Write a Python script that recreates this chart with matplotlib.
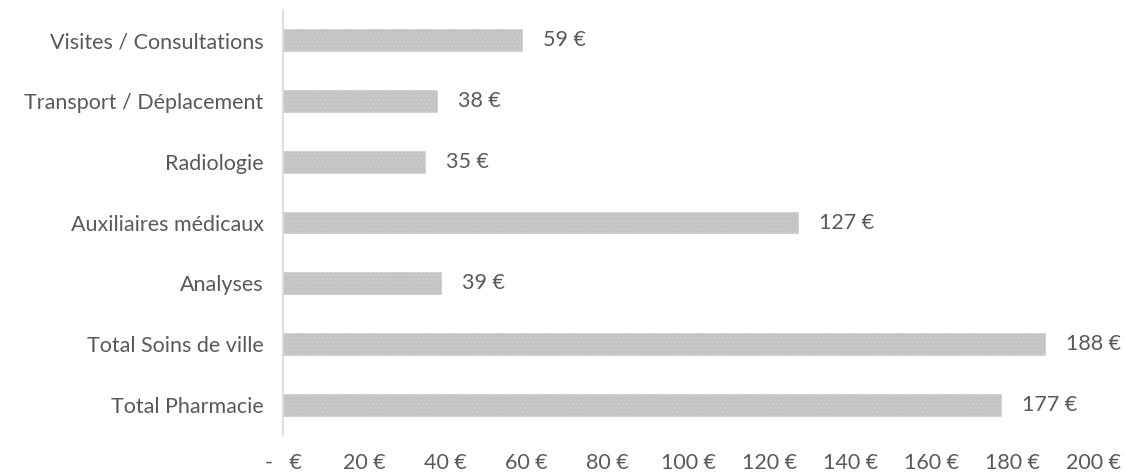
import matplotlib
matplotlib.use("Agg")
import matplotlib.pyplot as plt

categories = ["Visites / Consultations", "Transport / Déplacement", "Radiologie",
              "Auxiliaires médicaux", "Analyses", "Total Soins de ville", "Total Pharmacie"]
values = [59, 38, 35, 127, 39, 188, 177]
xticks = [0, 20, 40, 60, 80, 100, 120, 140, 160, 180, 200]
xticklabels = ["-   €", "20 €", "40 €", "60 €", "80 €", "100 €", "120 €", "140 €", "160 €", "180 €", "200 €"]

plt.rcParams['font.family'] = ['Lato', 'DejaVu Sans']
plt.rcParams['hatch.color'] = "#B2B2B2"
plt.rcParams['hatch.linewidth'] = 0.6
text_color = "#595959"
fs = 15.5

fig = plt.figure(figsize=(11.25, 4.76), dpi=100)
ax = fig.add_axes([0.2516, 0.086, 0.7208, 0.893])

ypos = list(range(len(categories)))
ax.barh(ypos, values, height=0.36, color="#C4C4C4", edgecolor="#D0D0D0", linewidth=0.6, hatch="....")
ax.set_ylim(len(categories) - 0.5, -0.5)
ax.set_xlim(0, 200)
ax.set_yticks(ypos)
ax.set_yticklabels(categories, fontsize=fs, color=text_color)
ax.set_xticks(xticks)
ax.set_xticklabels(xticklabels, fontsize=fs, color=text_color)
ax.tick_params(axis='y', length=0, pad=14)
ax.tick_params(axis='x', length=0, pad=13)
for s in ["top", "right", "bottom"]:
    ax.spines[s].set_visible(False)
ax.spines["left"].set_color("#D9D9D9")
ax.spines["left"].set_linewidth(1.2)

for y, v in zip(ypos, values):
    ax.annotate(f"{v} €", xy=(v, y), xytext=(15, 0), textcoords="offset points",
                va="center", ha="left", fontsize=fs, color=text_color)

fig.savefig("out.png", dpi=100)
